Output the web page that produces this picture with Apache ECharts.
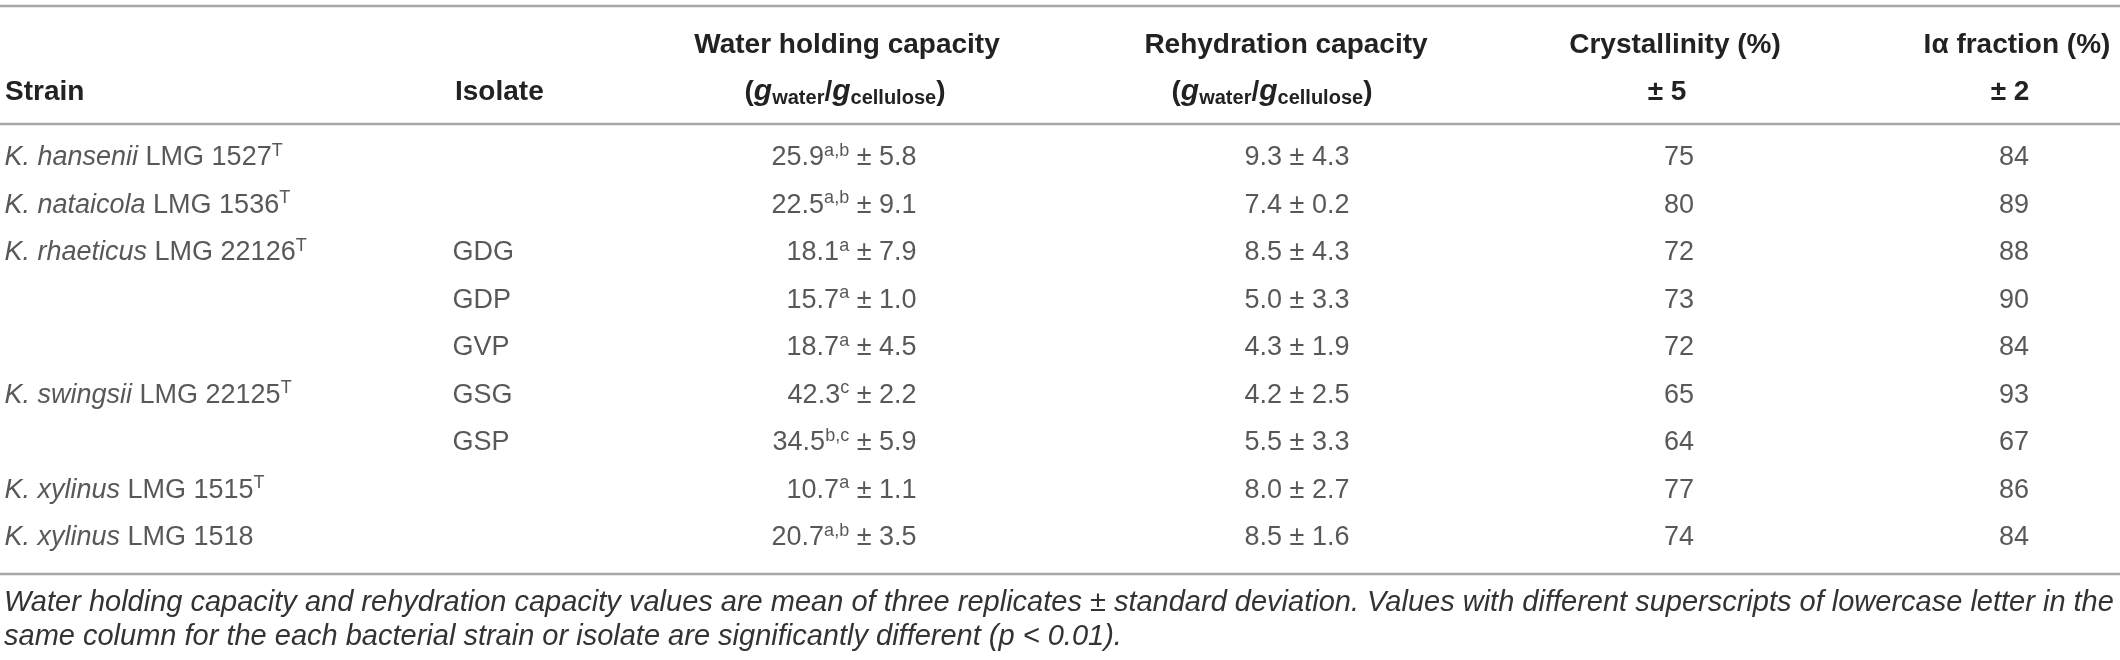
<!DOCTYPE html>
<html>
<head>
<meta charset="utf-8">
<script src="https://cdn.jsdelivr.net/npm/echarts@6/dist/echarts.min.js"></script>
<style>
  html, body { margin: 0; padding: 0; background: #fff; }
  #main { width: 2120px; height: 660px; }
</style>
</head>
<body>
<div id="main"></div>
<script>
// table values
var species = ['hansenii', 'nataicola', 'rhaeticus', '', '', 'swingsii', '', 'xylinus', 'xylinus'];
var lmgNo = ['1527', '1536', '22126', '', '', '22125', '', '1515', '1518'];
var typeStrain = [true, true, true, false, false, true, false, true, false];
var isolates = ['', '', 'GDG', 'GDP', 'GVP', 'GSG', 'GSP', '', ''];
var whcMean = [25.9, 22.5, 18.1, 15.7, 18.7, 42.3, 34.5, 10.7, 20.7];
var whcGroup = ['a,b', 'a,b', 'a', 'a', 'a', 'c', 'b,c', 'a', 'a,b'];
var whcSd = [5.8, 9.1, 7.9, 1.0, 4.5, 2.2, 5.9, 1.1, 3.5];
var rehydMean = [9.3, 7.4, 8.5, 5.0, 4.3, 4.2, 5.5, 8.0, 8.5];
var rehydSd = [4.3, 0.2, 4.3, 3.3, 1.9, 2.5, 3.3, 2.7, 1.6];
var crystallinity = [75, 80, 72, 73, 72, 65, 64, 77, 74];
var iAlpha = [84, 89, 88, 90, 84, 93, 67, 86, 84];
var rowIds = ['0', '1', '2', '3', '4', '5', '6', '7', '8'];

var footnote1 = 'Water holding capacity and rehydration capacity values are mean of three replicates \u00b1 standard deviation. Values with different superscripts of lowercase letter in the';
var footnote2 = 'same column for the each bacterial strain or isolate are significantly different (p < 0.01).';

var FONT = '"Liberation Sans", Arial, Helvetica, sans-serif';
var TXT = '#2e2e2e';
var RULE = '#a8a8a8';
var FS = 27;   // body
var HFS = 28;  // header

var rich = {
  it: { fontStyle: 'italic', fontSize: FS, fontFamily: FONT, color: TXT, lineHeight: 32 },
  n: { fontSize: FS, fontFamily: FONT, color: TXT, lineHeight: 32 },
  sup: { fontSize: 18, fontFamily: FONT, color: TXT, lineHeight: 20, verticalAlign: 'top' }
};

function col(name, x, pos, fmt) {
  return {
    name: name,
    type: 'scatter',
    symbolSize: 1,
    itemStyle: { color: 'rgba(0,0,0,0)' },
    silent: true,
    data: rowIds.map(function (r, i) { return [x, i]; }),
    label: {
      show: true,
      position: pos,
      distance: 0,
      fontSize: FS,
      fontFamily: FONT,
      color: TXT,
      rich: rich,
      formatter: function (p) { return fmt(p.dataIndex); }
    }
  };
}

var chart = echarts.init(document.getElementById('main'), null, { renderer: 'canvas' });

var hdr = { fontSize: HFS, fontWeight: 'bold', fontFamily: FONT, fill: '#222' };
function htext(x, y, text, align) {
  var st = Object.assign({ text: text, x: x, y: y, align: align, verticalAlign: 'middle' }, hdr);
  return { type: 'text', style: st, silent: true };
}
var unitRich = {
  b: { fontSize: HFS, fontWeight: 'bold', fontFamily: FONT, fill: '#222', lineHeight: 32 },
  g: { fontSize: HFS + 2, fontWeight: 'bold', fontStyle: 'italic', fontFamily: FONT, fill: '#222', lineHeight: 32 },
  sub: { fontSize: 20, fontWeight: 'bold', fontFamily: FONT, fill: '#222', lineHeight: 20, verticalAlign: 'bottom' }
};
var unitText = '{b|(}{g|g}{sub|water}{b|/}{g|g}{sub|cellulose}{b|)}';

function rule(y) {
  return { type: 'line', shape: { x1: 0, y1: y, x2: 2120, y2: y }, style: { stroke: RULE, lineWidth: 2.5 }, silent: true };
}

function foot(y, text) {
  return { type: 'text', silent: true, style: { text: text, x: 4, y: y, verticalAlign: 'middle', fontSize: 29, fontStyle: 'italic', fontFamily: FONT, fill: '#333' } };
}

var option = {
  animation: false,
  grid: { left: 0, right: 0, top: 134, height: 427.5 },
  xAxis: { type: 'value', min: 0, max: 2120, show: false },
  yAxis: { type: 'category', data: rowIds, inverse: true, show: false },
  series: [
    col('strain', 4, 'right', function (i) {
      if (!species[i]) return '';
      return '{it|K. ' + species[i] + '}{n| LMG ' + lmgNo[i] + '}' + (typeStrain[i] ? '{sup|T}' : '');
    }),
    col('isolate', 452, 'right', function (i) { return isolates[i]; }),
    col('whc', 917, 'left', function (i) {
      return '{n|' + whcMean[i].toFixed(1) + '}{sup|' + whcGroup[i] + '}{n| \u00b1 ' + whcSd[i].toFixed(1) + '}';
    }),
    col('rehyd', 1297, 'inside', function (i) {
      return rehydMean[i].toFixed(1) + ' \u00b1 ' + rehydSd[i].toFixed(1);
    }),
    col('cryst', 1679, 'inside', function (i) { return String(crystallinity[i]); }),
    col('ialpha', 2014, 'inside', function (i) { return String(iAlpha[i]); })
  ],
  graphic: [
    rule(6),
    rule(124),
    rule(574),
    htext(5, 92, 'Strain', 'left'),
    htext(455, 92, 'Isolate', 'left'),
    htext(847, 45, 'Water holding capacity', 'center'),
    { type: 'text', silent: true, style: { text: unitText, rich: unitRich, x: 845, y: 92, align: 'center', verticalAlign: 'middle', fontFamily: FONT } },
    htext(1286, 45, 'Rehydration capacity', 'center'),
    { type: 'text', silent: true, style: { text: unitText, rich: unitRich, x: 1272, y: 92, align: 'center', verticalAlign: 'middle', fontFamily: FONT } },
    htext(1675, 45, 'Crystallinity (%)', 'center'),
    htext(1667, 92, '\u00b1 5', 'center'),
    htext(2017, 45, 'I\u03b1 fraction (%)', 'center'),
    htext(2010, 92, '\u00b1 2', 'center'),
    foot(603, footnote1),
    foot(637, footnote2)
  ]
};

chart.setOption(option);
</script>
</body>
</html>
